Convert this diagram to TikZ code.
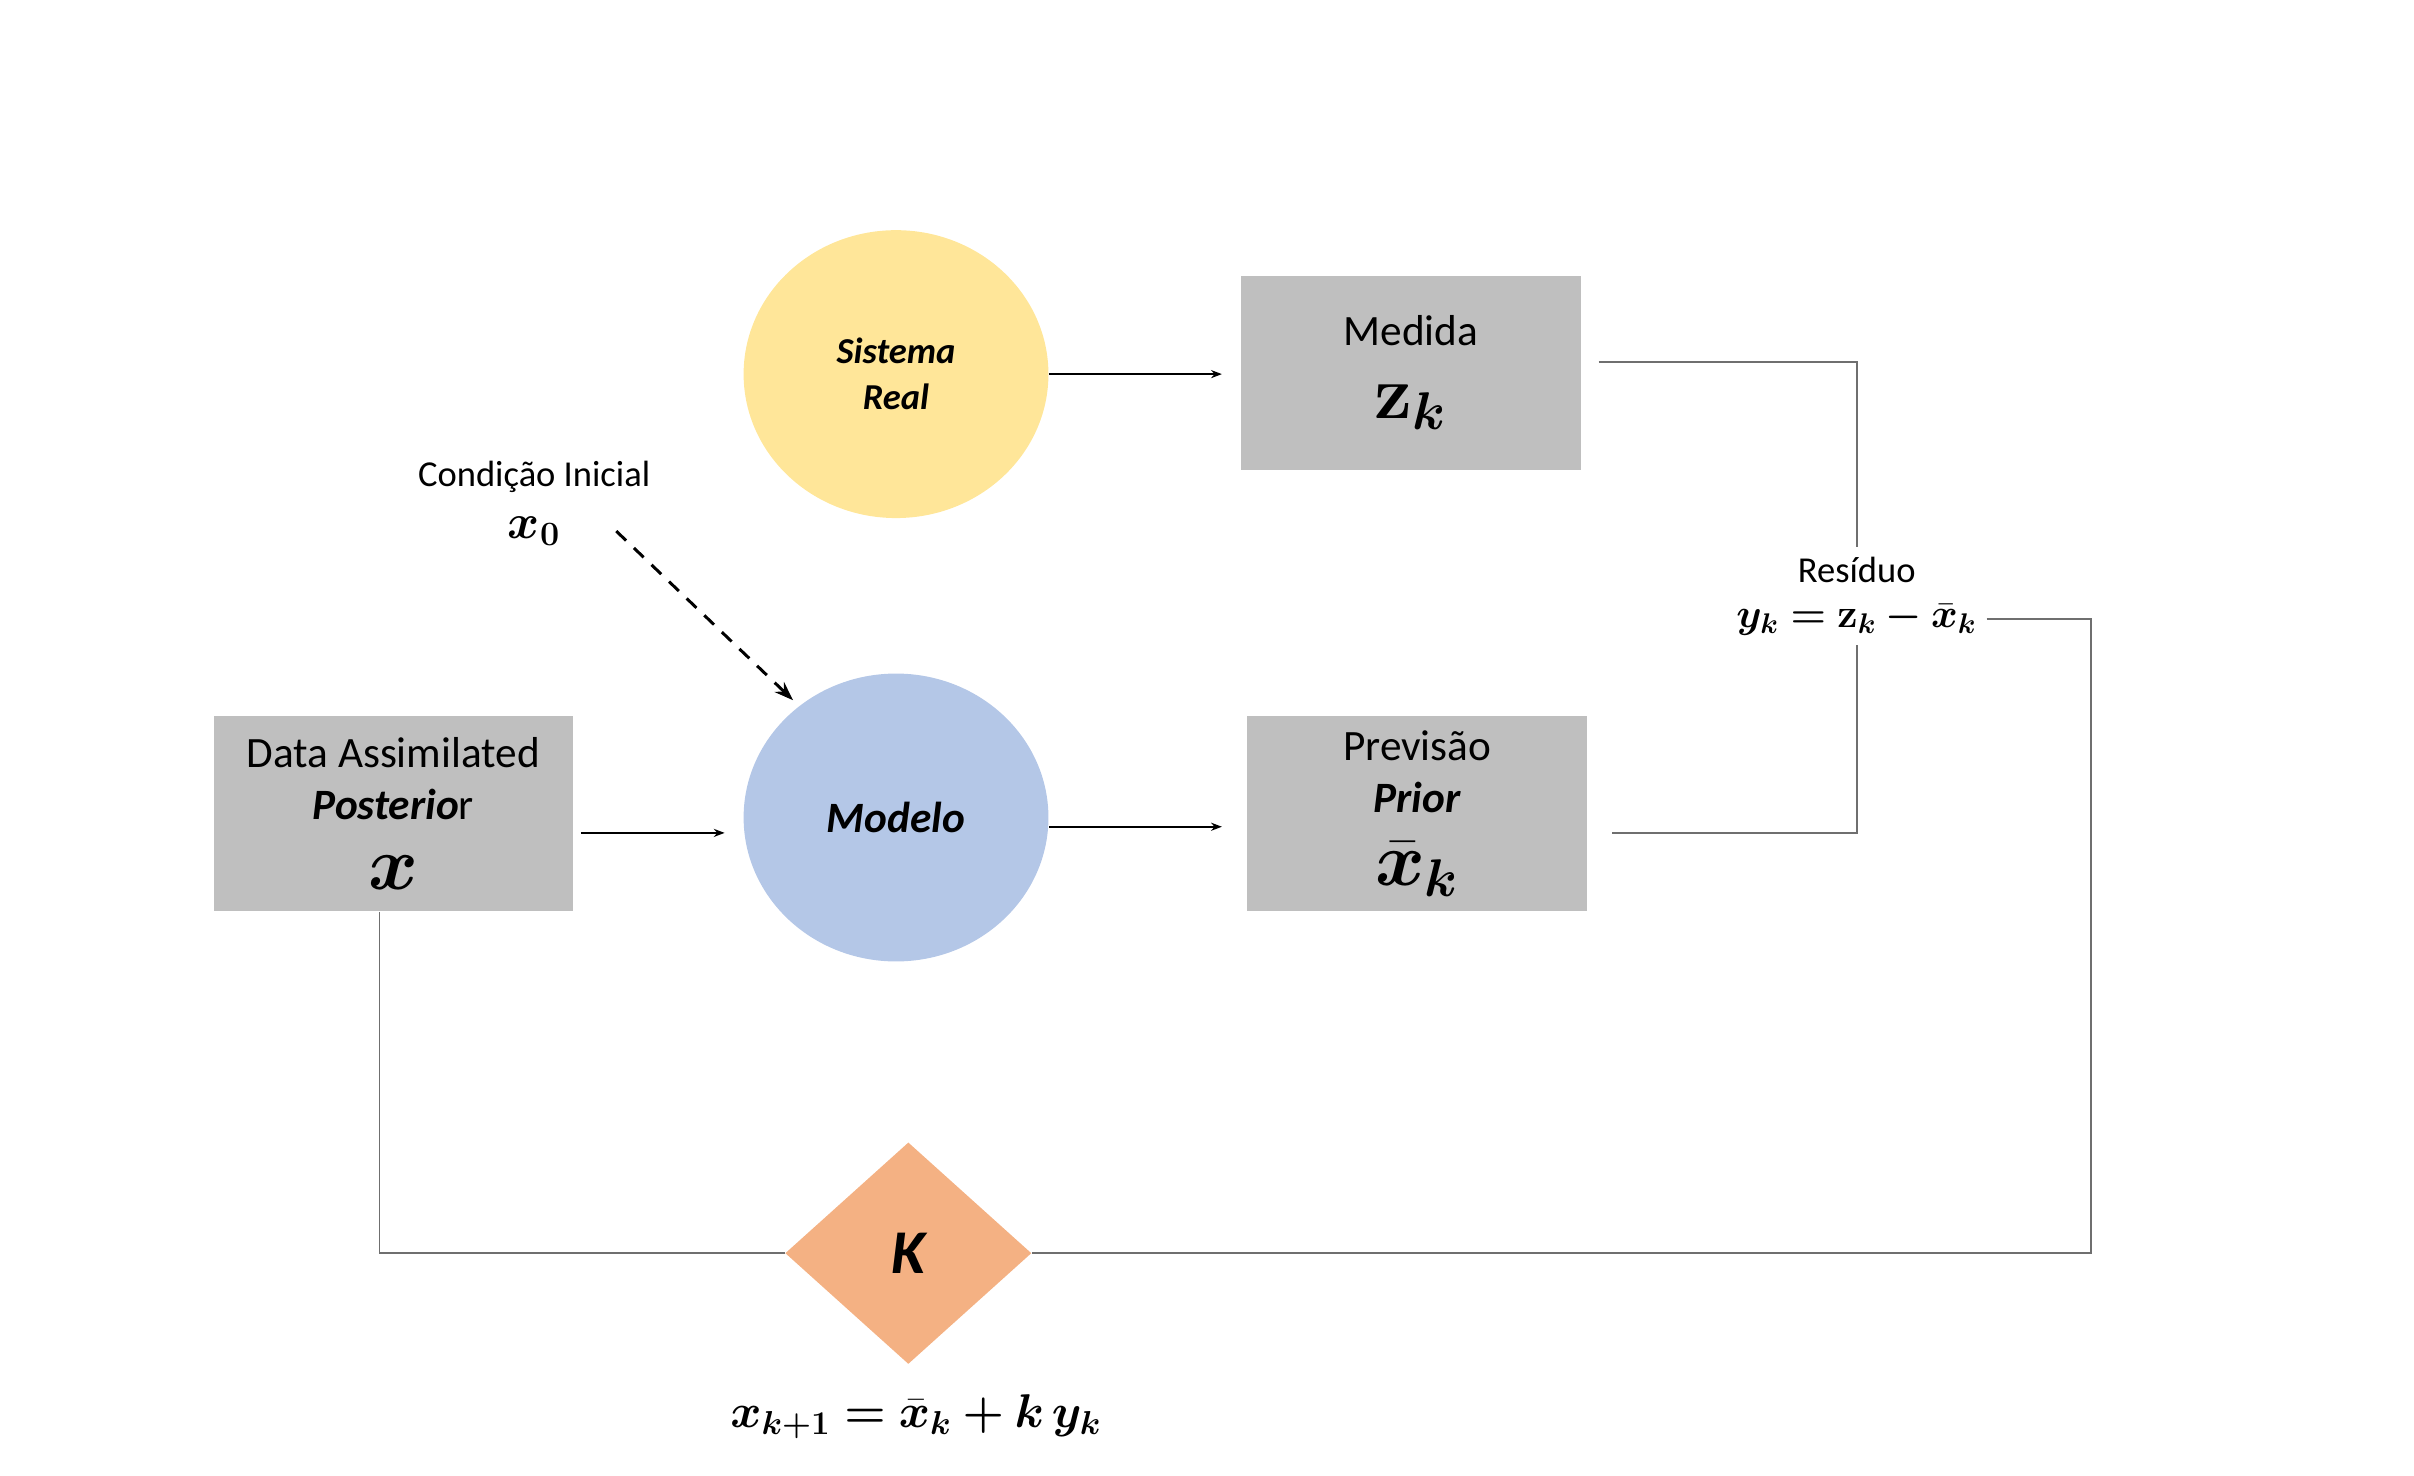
\RequirePackage{fix-cm}
\documentclass[tikz,border=0pt]{standalone}
\usepackage{fontspec}
\setmainfont{Carlito}
\usepackage{amsmath,bm}
\usepackage{xcolor}
\usetikzlibrary{shapes.geometric,arrows.meta,calc,positioning}

\definecolor{amarelo}{HTML}{FFE699}
\definecolor{azul}{HTML}{B4C7E7}
\definecolor{cinza}{HTML}{BFBFBF}
\definecolor{laranja}{HTML}{F4B183}
\definecolor{linha}{HTML}{6F6F6F}

\newcommand{\mgrande}{\fontsize{28}{30}\selectfont}

\tikzset{
	caixa/.style={rectangle, fill=cinza, minimum width=4.42cm, minimum height=2.54cm, align=center, inner sep=2pt, font=\fontsize{16}{19}\selectfont},
	bolha/.style={ellipse, minimum width=3.96cm, minimum height=3.74cm, align=center, inner sep=0pt},
	seta/.style={-{Stealth[length=4pt,width=3pt]}, line width=0.6pt},
	seta tracejada/.style={-{Stealth[length=7pt,width=5pt]}, dash pattern=on 5pt off 4pt, line width=1.1pt, shorten >=3pt},
	ligacao/.style={draw=linha, line width=0.6pt},
	rotulo/.style={font=\fontsize{13.5}{16}\selectfont},
}

\begin{document}
\begin{tikzpicture}
		\useasboundingbox (0,0) rectangle (31.36,-19.17);
		% blocos
		\node[bolha, fill=amarelo, font=\fontsize{13.5}{17}\selectfont\bfseries\itshape] (sistema) at (11.64,-4.86) {Sistema\\Real};
		\node[caixa, minimum height=2.52cm] (medida) at (18.33,-4.84) {Medida\\[8pt]{\mgrande$\bm{\mathbf{z}_k}$}};
		\node[caixa, minimum width=4.66cm] (posterior) at (5.11,-10.57) {Data Assimilated\\\textbf{\textit{Posterio}}r\\[7pt]{\mgrande$\bm{x}$}};
		\node[bolha, fill=azul, font=\fontsize{16}{19}\selectfont\bfseries\itshape] (modelo) at (11.64,-10.62) {Modelo};
		\node[caixa] (previsao) at (18.41,-10.57) {Previsão\\\textbf{\textit{Prior}}\\[8pt]{\mgrande$\bm{\bar{x}_k}$}};
		\node[diamond, fill=laranja, minimum width=3.2cm, minimum height=2.88cm, inner sep=0pt, font=\fontsize{23}{26}\selectfont\bfseries\itshape] (ganho) at (11.8,-16.28) {K};
		% textos soltos
		\node[rotulo] (condicao) at (6.94,-6.2) {Condição Inicial};
		\node[font=\fontsize{18}{20}\selectfont] (xzero) at (6.94,-6.9) {$\bm{x_0}$};
		\node[rotulo] (residuo) at (24.12,-7.4) {Resíduo};
		\node[font=\fontsize{15}{17}\selectfont] (inovacao) at (24.12,-8.04) {$\bm{y_k = \mathbf{z}_k - \bar{x}_k}$};
		\node[font=\fontsize{17.5}{20}\selectfont] (atualiza) at (11.9,-18.4) {$\bm{x_{k+1} = \bar{x}_k + k\,y_k}$};
		% setas
		\draw[seta, shorten >=0.24cm] (sistema.east) -- (sistema.east -| medida.west);
		\draw[seta, shorten <=0.1cm, shorten >=0.24cm] ([yshift=-0.25cm]posterior.east) -- ([yshift=-0.25cm]posterior.east -| modelo.west);
		\draw[seta, shorten >=0.32cm] ([yshift=-0.12cm]modelo.east) -- ([yshift=-0.12cm]modelo.east -| previsao.west);
		\draw[seta tracejada] ([xshift=0.6cm]xzero.east) -- (modelo.131);
		% ligacoes
		\draw[ligacao] ([shift={(0.22cm,0.14cm)}]medida.east) -| (residuo.north);
		\draw[ligacao] ([shift={(0.32cm,-0.25cm)}]previsao.east) -| (inovacao.south);
		\draw[ligacao] (inovacao.east) -- (inovacao.east -| {27.16,0}) |- (ganho.east);
		\draw[ligacao] ([xshift=-0.18cm]posterior.south) |- (ganho.west);
	\end{tikzpicture}
\end{document}
